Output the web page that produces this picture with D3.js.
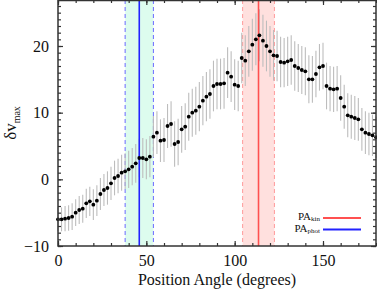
<!DOCTYPE html>
<html>
<head>
<meta charset="utf-8">
<script src="https://cdn.jsdelivr.net/npm/d3@7"></script>
<style>
  body { margin: 0; background: #fff; }
  svg text { font-family: "Liberation Serif", "DejaVu Serif", serif; fill: #111; }
</style>
</head>
<body>
<div id="chart"></div>
<script>
let dim = { 'width': 377, 'height': 291 };
let box = { left: 58, right: 376, top: 0, bottom: 246 };

// position angle (deg)
let angles = [0, 2, 4, 6, 8, 10, 12, 14, 16, 18, 20, 22, 24, 26, 28, 30, 32, 34, 36, 38,
  40, 42, 44, 46, 48, 50, 52, 54, 56, 58, 60, 62, 64, 66, 68, 70, 72, 74, 76, 78,
  80, 82, 84, 86, 88, 90, 92, 94, 96, 98, 100, 102, 104, 106, 108, 110, 112, 114, 116, 118,
  120, 122, 124, 126, 128, 130, 132, 134, 136, 138, 140, 142, 144, 146, 148, 150, 152, 154, 156, 158,
  160, 162, 164, 166, 168, 170, 172, 174, 176, 178, 180];

// delta v_max
let dvmax = [-6.0, -6.0, -5.9, -5.8, -5.6, -5.0, -4.6, -4.4, -3.6, -3.3, -3.8, -3.2, -2.2, -1.6, -1.3, -0.6, 0.2, 0.5, 1.0, 1.2,
  1.5, 1.9, 2.4, 3.2, 3.2, 3.0, 3.4, 6.4, 7.0, 5.8, 5.9, 8.0, 8.3, 5.3, 5.6, 7.5, 7.9, 9.4, 10.0, 10.3,
  10.9, 11.8, 12.4, 12.8, 14.0, 14.3, 14.3, 14.4, 16.0, 15.4, 14.2, 14.0, 18.2, 17.8, 19.2, 20.2, 21.0, 21.6, 20.8, 20.0,
  19.2, 18.6, 18.5, 17.6, 17.5, 17.7, 17.9, 17.0, 16.7, 16.4, 16.2, 15.0, 15.0, 15.8, 16.8, 17.0, 14.0, 13.6, 13.5, 13.6,
  12.2, 10.9, 9.6, 9.4, 9.2, 9.0, 7.5, 7.0, 6.8, 6.6, 6.3];

// error half-length
let dvErr = [1.8, 1.8, 1.9, 1.9, 2.0, 2.0, 2.1, 2.1, 2.2, 2.2, 2.3, 2.3, 2.4, 2.4, 2.5, 2.5, 2.6, 2.6, 2.7, 2.7,
  2.8, 2.8, 2.9, 2.9, 3.0, 3.0, 3.1, 3.1, 3.2, 3.2, 3.3, 3.3, 3.4, 3.4, 3.5, 3.5, 3.5, 3.6, 3.6, 3.6,
  3.7, 3.7, 3.7, 3.7, 3.8, 3.8, 3.8, 3.8, 3.8, 3.8, 3.8, 3.8, 3.8, 3.8, 3.8, 3.9, 3.9, 3.9, 3.9, 3.8,
  3.8, 3.8, 3.8, 3.8, 3.7, 3.7, 3.7, 3.7, 3.6, 3.6, 3.6, 3.6, 3.5, 3.5, 3.5, 3.5, 3.5, 3.4, 3.4, 3.4,
  3.4, 3.3, 3.3, 3.3, 3.3, 3.2, 3.2, 3.2, 3.2, 3.1, 3.1];

// PA lines with their uncertainty bands
let paNames = ['kin', 'phot'];
let paValues = [113.5, 46];
let paErrors = [9, 8];
let paColors = ['#ff5050', '#2222ff'];
let paBandFills = ['#ffe0de', '#ddfcee'];
let paDashColors = ['#ff9a9a', '#6a6aff'];

let xMajor = [0, 50, 100, 150];
let xMinor = [0, 10, 20, 30, 40, 50, 60, 70, 80, 90, 100, 110, 120, 130, 140, 150, 160, 170, 180];
let yMajor = [-10, 0, 10, 20];
let yMinor = [-10, -9, -8, -7, -6, -5, -4, -3, -2, -1, 0, 1, 2, 3, 4, 5, 6, 7, 8, 9, 10,
  11, 12, 13, 14, 15, 16, 17, 18, 19, 20, 21, 22, 23, 24, 25, 26];

let points = angles.map((a, i) => ({ pa: a, v: dvmax[i], e: dvErr[i] }));
let pas = paNames.map((n, i) => ({ name: n, pa: paValues[i], err: paErrors[i],
  color: paColors[i], fill: paBandFills[i], dash: paDashColors[i] }));

let svg = d3.select('#chart').append('svg')
    .attr('width', dim.width)
    .attr('height', dim.height);

let scaleX = d3.scaleLinear().domain([0, 180]).range([box.left, box.right]);
let scaleY = d3.scaleLinear().domain([-10, 26.9]).range([box.bottom, box.top]);

// bands
svg.selectAll('rect.band').data(pas).join('rect')
    .attr('class', 'band')
    .attr('x', d => scaleX(d.pa - d.err))
    .attr('width', d => scaleX(d.pa + d.err) - scaleX(d.pa - d.err))
    .attr('y', box.top)
    .attr('height', box.bottom - box.top)
    .attr('fill', d => d.fill);

pas.forEach(d => {
  [d.pa - d.err, d.pa + d.err].forEach(edge => {
    svg.append('line')
        .attr('x1', scaleX(edge)).attr('x2', scaleX(edge))
        .attr('y1', box.top).attr('y2', box.bottom)
        .attr('stroke', d.dash)
        .attr('stroke-width', 1)
        .attr('stroke-dasharray', '4,3');
  });
});

// error bars
svg.selectAll('line.err').data(points).join('line')
    .attr('class', 'err')
    .attr('x1', d => scaleX(d.pa)).attr('x2', d => scaleX(d.pa))
    .attr('y1', d => scaleY(d.v - d.e))
    .attr('y2', d => scaleY(d.v + d.e))
    .attr('stroke', '#bdbdbd')
    .attr('stroke-width', 1.1);

// PA lines
svg.selectAll('line.pa').data(pas).join('line')
    .attr('class', 'pa')
    .attr('x1', d => scaleX(d.pa)).attr('x2', d => scaleX(d.pa))
    .attr('y1', box.top).attr('y2', box.bottom)
    .attr('stroke', d => d.color)
    .attr('stroke-width', 1.6);

// points
svg.selectAll('circle').data(points).join('circle')
    .attr('cx', d => scaleX(d.pa))
    .attr('cy', d => scaleY(d.v))
    .attr('r', 1.9)
    .attr('fill', '#000');

// axes
function styleAxis(g) {
  g.selectAll('.domain').remove();
  g.selectAll('line').attr('stroke', '#333').attr('stroke-width', 1.2);
  g.selectAll('text').attr('font-size', 16).attr('fill', '#111')
      .style('font-family', '"Liberation Serif", serif');
}

svg.append('g').attr('transform', `translate(0,${box.bottom})`)
    .call(d3.axisBottom(scaleX).tickValues(xMajor).tickSizeInner(-5).tickSizeOuter(0).tickPadding(9))
    .call(styleAxis);
svg.append('g').attr('transform', `translate(0,${box.bottom})`)
    .call(d3.axisBottom(scaleX).tickValues(xMinor).tickSizeInner(-3).tickSizeOuter(0).tickFormat(''))
    .call(styleAxis);
svg.append('g').attr('transform', `translate(0,${box.top})`)
    .call(d3.axisTop(scaleX).tickValues(xMajor).tickSizeInner(-5).tickSizeOuter(0).tickFormat(''))
    .call(styleAxis);
svg.append('g').attr('transform', `translate(0,${box.top})`)
    .call(d3.axisTop(scaleX).tickValues(xMinor).tickSizeInner(-3).tickSizeOuter(0).tickFormat(''))
    .call(styleAxis);

svg.append('g').attr('transform', `translate(${box.left},0)`)
    .call(d3.axisLeft(scaleY).tickValues(yMajor).tickSizeInner(-5).tickSizeOuter(0).tickPadding(9)
        .tickFormat(d => d < 0 ? '\u2212' + Math.abs(d) : d))
    .call(styleAxis);
svg.append('g').attr('transform', `translate(${box.left},0)`)
    .call(d3.axisLeft(scaleY).tickValues(yMinor).tickSizeInner(-3).tickSizeOuter(0).tickFormat(''))
    .call(styleAxis);
svg.append('g').attr('transform', `translate(${box.right},0)`)
    .call(d3.axisRight(scaleY).tickValues(yMajor).tickSizeInner(-5).tickSizeOuter(0).tickFormat(''))
    .call(styleAxis);
svg.append('g').attr('transform', `translate(${box.right},0)`)
    .call(d3.axisRight(scaleY).tickValues(yMinor).tickSizeInner(-3).tickSizeOuter(0).tickFormat(''))
    .call(styleAxis);

// frame
svg.append('rect')
    .attr('x', box.left).attr('y', box.top + 0.5)
    .attr('width', box.right - box.left)
    .attr('height', box.bottom - box.top - 0.5)
    .attr('fill', 'none')
    .attr('stroke', '#333')
    .attr('stroke-width', 1.5);

// axis titles
svg.append('text')
    .attr('x', (box.left + box.right) / 2)
    .attr('y', 285)
    .attr('text-anchor', 'middle')
    .attr('font-size', 16)
    .text('Position Angle (degrees)');

let yTitle = svg.append('text')
    .attr('transform', `translate(16,${(box.top + box.bottom) / 2}) rotate(-90)`)
    .attr('text-anchor', 'middle')
    .attr('font-size', 17);
yTitle.append('tspan').text('\u03b4v');
yTitle.append('tspan').attr('font-size', 10).attr('dy', 4).text('max');

// legend
let legend = svg.append('g');
pas.forEach((d, i) => {
  let yy = 218 + i * 11.5;
  let t = legend.append('text')
      .attr('x', 320).attr('y', yy + 2)
      .attr('text-anchor', 'end')
      .attr('font-size', 11);
  t.append('tspan').text('PA');
  t.append('tspan').attr('font-size', 7).attr('dy', 1).text(d.name);
  legend.append('line')
      .attr('x1', 323).attr('x2', 361)
      .attr('y1', yy).attr('y2', yy)
      .attr('stroke', d.color)
      .attr('stroke-width', 2);
});
</script>
</body>
</html>
